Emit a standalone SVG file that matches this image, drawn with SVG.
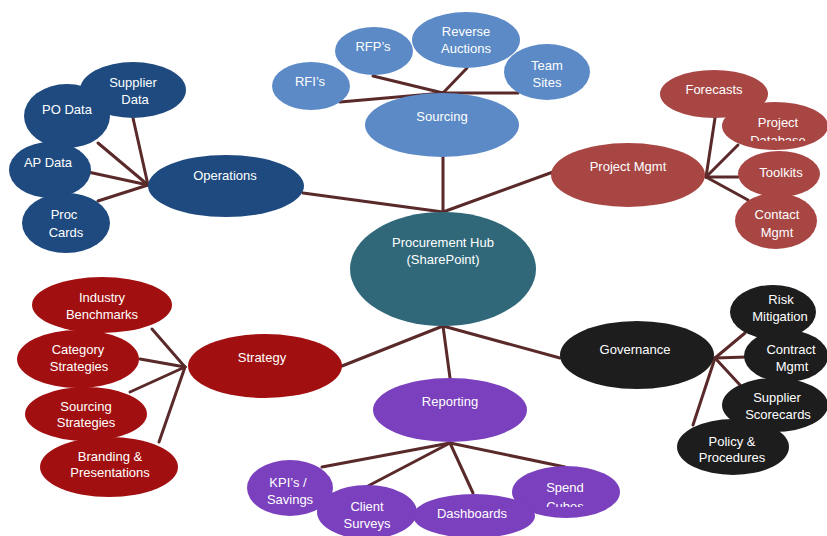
<svg xmlns="http://www.w3.org/2000/svg" width="827" height="536" viewBox="0 0 827 536">
<defs>
<style>
text{font-family:"Liberation Sans",Arial,sans-serif;font-size:13px;fill:#ffffff;text-anchor:middle}
.c line{stroke:#5a2a2a;stroke-width:3;stroke-linecap:round}
.src{fill:#5b8ac6}
.ops{fill:#1e4a80}
.pm{fill:#a84644}
.hub{fill:#30687a}
.str{fill:#a20f10}
.gov{fill:#1d1d1d}
.rep{fill:#7b40bd}
</style>
<clipPath id="clipDb"><rect x="700" y="100" width="127" height="41"/></clipPath>
<clipPath id="clipCb"><rect x="500" y="460" width="130" height="47"/></clipPath>
</defs>
<rect width="827" height="536" fill="#ffffff"/>
<g class="c" id="connectors">
<line x1="443" y1="212" x2="443" y2="157"/>
<line x1="443" y1="212" x2="303" y2="193"/>
<line x1="443" y1="212" x2="553" y2="172"/>
<line x1="443" y1="326" x2="342" y2="366"/>
<line x1="443" y1="326" x2="560" y2="358"/>
<line x1="443" y1="326" x2="450" y2="378"/>
<line x1="443" y1="93" x2="340" y2="102"/>
<line x1="443" y1="93" x2="373" y2="76"/>
<line x1="443" y1="93" x2="467" y2="68"/>
<line x1="443" y1="93" x2="518" y2="93"/>
<line x1="148" y1="185" x2="133" y2="118"/>
<line x1="148" y1="185" x2="98" y2="143"/>
<line x1="148" y1="185" x2="88" y2="172"/>
<line x1="148" y1="185" x2="98" y2="201"/>
<line x1="706" y1="177" x2="715" y2="118"/>
<line x1="706" y1="177" x2="738" y2="145"/>
<line x1="706" y1="177" x2="738" y2="177"/>
<line x1="706" y1="177" x2="748" y2="200"/>
<line x1="185" y1="367" x2="152" y2="329"/>
<line x1="185" y1="367" x2="140" y2="359"/>
<line x1="185" y1="367" x2="130" y2="392"/>
<line x1="185" y1="367" x2="159" y2="442"/>
<line x1="715" y1="358" x2="745" y2="333"/>
<line x1="715" y1="358" x2="747" y2="357"/>
<line x1="715" y1="358" x2="740" y2="385"/>
<line x1="715" y1="358" x2="693" y2="425"/>
<line x1="450" y1="443" x2="322" y2="467"/>
<line x1="450" y1="443" x2="368" y2="486"/>
<line x1="450" y1="443" x2="473" y2="493"/>
<line x1="450" y1="443" x2="565" y2="467"/>
</g>
<g id="hub"><ellipse class="hub" cx="443" cy="269" rx="93" ry="57"/><text x="443" y="247">Procurement Hub</text><text x="443" y="264">(SharePoint)</text></g>
<g id="sourcing"><ellipse class="src" cx="442" cy="125" rx="77" ry="32"/><text x="442" y="121">Sourcing</text></g>
<g id="rfis"><ellipse class="src" cx="311" cy="86" rx="39" ry="24"/><text x="310" y="86">RFI’s</text></g>
<g id="rfps"><ellipse class="src" cx="374" cy="51" rx="39" ry="24"/><text x="373" y="51">RFP’s</text></g>
<g id="reverse-auctions"><ellipse class="src" cx="466" cy="40" rx="54" ry="28"/><text x="466" y="36">Reverse</text><text x="466" y="53">Auctions</text></g>
<g id="team-sites"><ellipse class="src" cx="547" cy="72" rx="43" ry="28"/><text x="547" y="70">Team</text><text x="547" y="87">Sites</text></g>
<g id="operations"><ellipse class="ops" cx="226" cy="186" rx="78" ry="31"/><text x="225" y="180">Operations</text></g>
<g id="supplier-data"><ellipse class="ops" cx="133" cy="90" rx="53" ry="28"/><text x="133" y="87">Supplier</text><text x="135" y="104">Data</text></g>
<g id="po-data"><ellipse class="ops" cx="67" cy="116" rx="43" ry="32"/><text x="67" y="114">PO Data</text></g>
<g id="ap-data"><ellipse class="ops" cx="50" cy="170" rx="41" ry="28"/><text x="48" y="167">AP Data</text></g>
<g id="proc-cards"><ellipse class="ops" cx="66" cy="223" rx="44" ry="30"/><text x="64" y="219">Proc</text><text x="66" y="237">Cards</text></g>
<g id="project-mgmt"><ellipse class="pm" cx="628" cy="175" rx="77" ry="32"/><text x="628" y="171">Project Mgmt</text></g>
<g id="forecasts"><ellipse class="pm" cx="714" cy="94" rx="54" ry="24"/><text x="714" y="94">Forecasts</text></g>
<g id="project-database"><ellipse class="pm" cx="775" cy="126" rx="53" ry="24"/><text x="778" y="127">Project</text><text x="778" y="145" clip-path="url(#clipDb)">Database</text></g>
<g id="toolkits"><ellipse class="pm" cx="779" cy="174" rx="41" ry="23"/><text x="781" y="177">Toolkits</text></g>
<g id="contact-mgmt"><ellipse class="pm" cx="776" cy="221" rx="41" ry="28"/><text x="777" y="219">Contact</text><text x="777" y="237">Mgmt</text></g>
<g id="strategy"><ellipse class="str" cx="265" cy="366" rx="77" ry="32"/><text x="262" y="362">Strategy</text></g>
<g id="industry-benchmarks"><ellipse class="str" cx="102" cy="305" rx="70" ry="28"/><text x="102" y="302">Industry</text><text x="102" y="319">Benchmarks</text></g>
<g id="category-strategies"><ellipse class="str" cx="78" cy="359" rx="61" ry="29"/><text x="78" y="354">Category</text><text x="79" y="371">Strategies</text></g>
<g id="sourcing-strategies"><ellipse class="str" cx="86" cy="414" rx="61" ry="27"/><text x="86" y="411">Sourcing</text><text x="86" y="427">Strategies</text></g>
<g id="branding-presentations"><ellipse class="str" cx="109" cy="467" rx="69" ry="30"/><text x="110" y="461">Branding &amp;</text><text x="110" y="477">Presentations</text></g>
<g id="governance"><ellipse class="gov" cx="637" cy="355" rx="77" ry="34"/><text x="635" y="354">Governance</text></g>
<g id="risk-mitigation"><ellipse class="gov" cx="773" cy="312" rx="43" ry="27"/><text x="781" y="304">Risk</text><text x="780" y="321">Mitigation</text></g>
<g id="contract-mgmt"><ellipse class="gov" cx="786" cy="356" rx="42" ry="26"/><text x="791" y="354">Contract</text><text x="792" y="371">Mgmt</text></g>
<g id="supplier-scorecards"><ellipse class="gov" cx="775" cy="405" rx="53" ry="27"/><text x="777" y="402">Supplier</text><text x="778" y="419">Scorecards</text></g>
<g id="policy-procedures"><ellipse class="gov" cx="733" cy="447" rx="56" ry="28"/><text x="732" y="446">Policy &amp;</text><text x="732" y="462">Procedures</text></g>
<g id="reporting"><ellipse class="rep" cx="450" cy="410" rx="77" ry="32"/><text x="450" y="406">Reporting</text></g>
<g id="kpis-savings"><ellipse class="rep" cx="290" cy="488" rx="43" ry="28"/><text x="288" y="487">KPI’s /</text><text x="290" y="504">Savings</text></g>
<g id="client-surveys"><ellipse class="rep" cx="367" cy="512" rx="50" ry="27"/><text x="367" y="511">Client</text><text x="367" y="528">Surveys</text></g>
<g id="spend-cubes"><ellipse class="rep" cx="566" cy="492" rx="54" ry="26"/><text x="565" y="492">Spend</text><text x="565" y="511" clip-path="url(#clipCb)">Cubes</text></g>
<g id="dashboards"><ellipse class="rep" cx="474" cy="516" rx="61" ry="22"/><text x="472" y="518">Dashboards</text></g>
</svg>
